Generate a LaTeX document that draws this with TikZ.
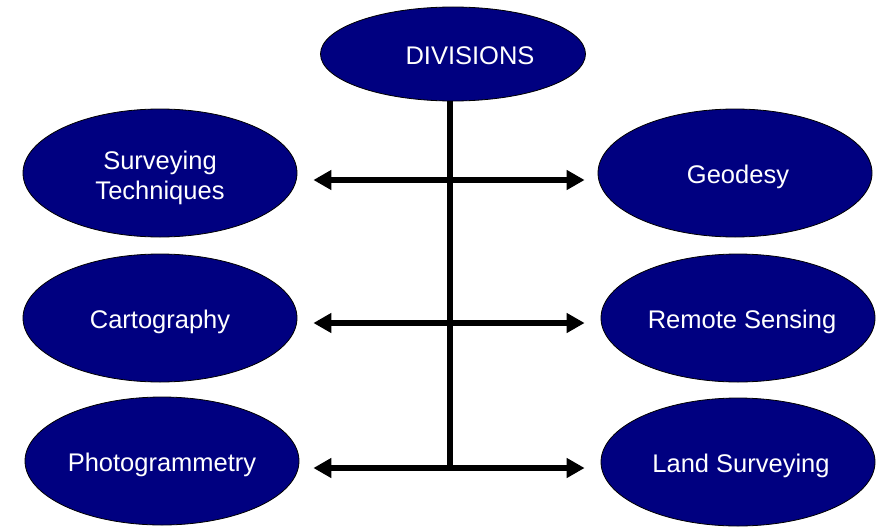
\documentclass[tikz,border=0pt]{standalone}
\usepackage{fontspec}
\setmainfont{Liberation Sans}
\usetikzlibrary{shapes.geometric,arrows.meta}
\definecolor{navy}{HTML}{000080}
% #1 = twice the rightward shift, #2 = vertical raise of first baseline, #3 = text
\newcommand\placetext[3]{\makebox[0pt]{\hspace*{#1}\raisebox{#2}[0pt][0pt]{\begin{tabular}[t]{@{}c@{}}#3\end{tabular}}}}
\begin{document}
\begin{tikzpicture}[x=1pt,y=-1pt,
  blob/.style={ellipse,draw=black,line width=0.8pt,fill=navy,text=white,
    minimum width=274pt,minimum height=128pt,inner sep=0pt,
    font=\fontsize{25.5}{30}\selectfont},
  topblob/.style={blob,minimum width=265pt,minimum height=94pt},
  link/.style={line width=6pt,black},
  dbl/.style={link,{Triangle[length=18pt,width=19pt]}-{Triangle[length=18pt,width=19pt]}}]
\useasboundingbox (0,0) rectangle (877,527);
\node[topblob] (div) at (453,54) {\placetext{34pt}{-10pt}{DIVISIONS}};
\node[blob] (st) at (160,173) {\placetext{0pt}{4pt}{Surveying\\Techniques}};
\node[blob] (ca) at (160,318) {\placetext{0pt}{-10pt}{Cartography}};
\node[blob] (ph) at (162,461) {\placetext{0pt}{-10pt}{Photogrammetry}};
\node[blob] (ge) at (735,173) {\placetext{6pt}{-10pt}{Geodesy}};
\node[blob] (rs) at (738,318) {\placetext{8pt}{-10pt}{Remote Sensing}};
\node[blob] (ls) at (738,462) {\placetext{6pt}{-10pt}{Land Surveying}};
\coordinate (j1) at (450,180);
\coordinate (j2) at (450,323);
\coordinate (j3) at (450,468);
\draw[link] (j1 |- div.south) -- (j3);
\draw[dbl,shorten <=16pt,shorten >=13pt] (st.east |- j1) -- (ge.west |- j1);
\draw[dbl,shorten <=16pt,shorten >=16pt] (ca.east |- j2) -- (rs.west |- j2);
\draw[dbl,shorten <=14pt,shorten >=16pt] (ph.east |- j3) -- (ls.west |- j3);
\end{tikzpicture}
\end{document}
